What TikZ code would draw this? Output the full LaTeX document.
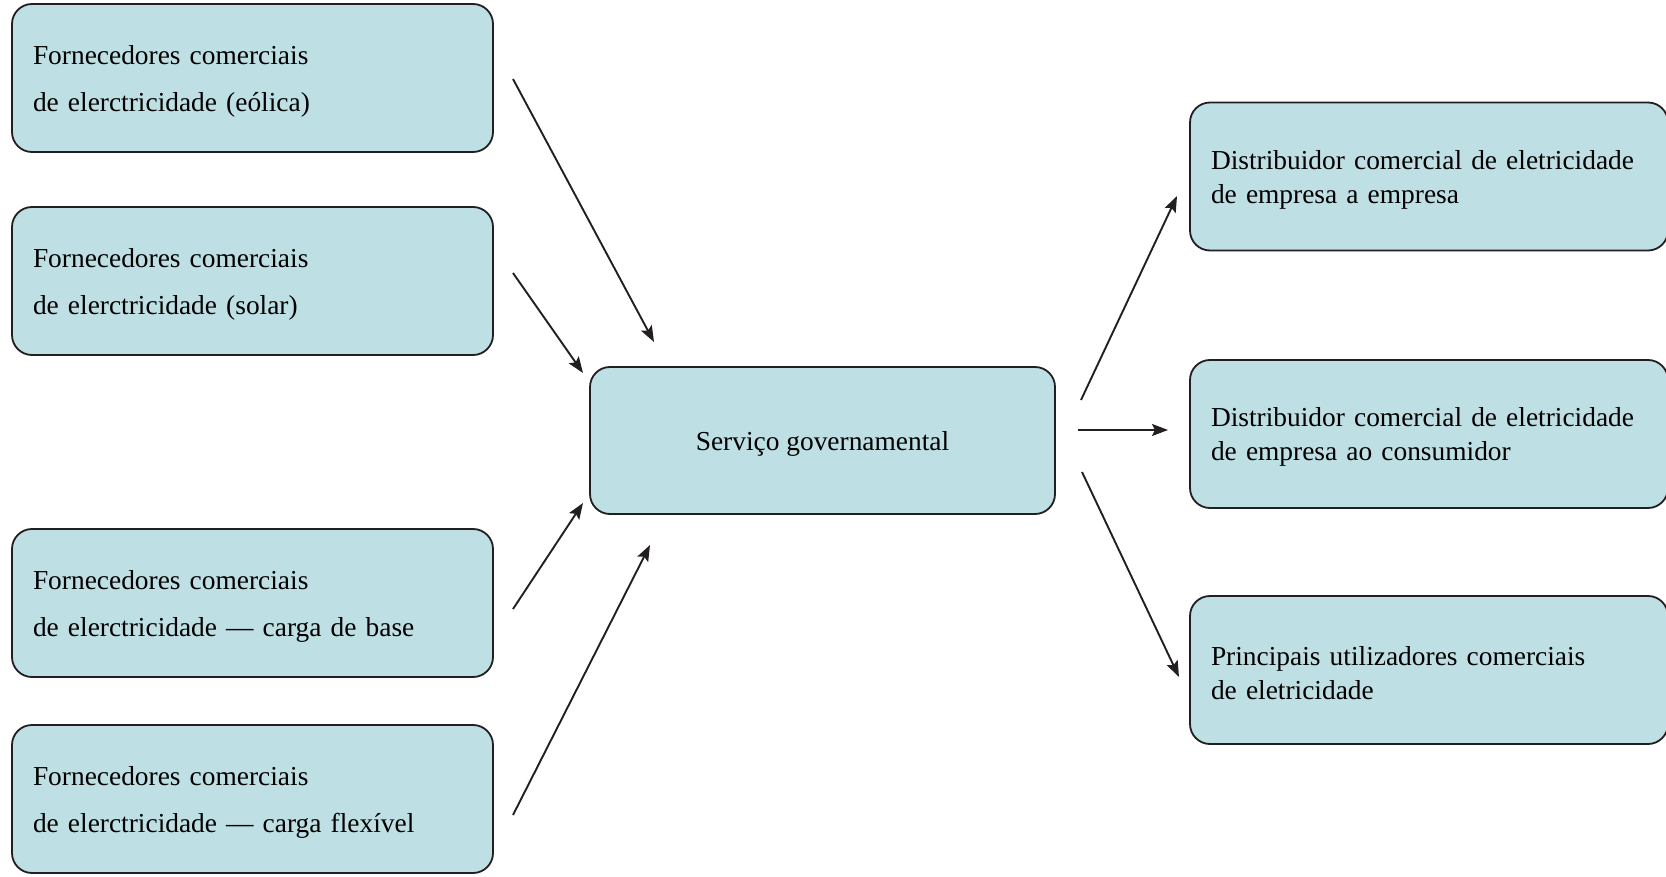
\documentclass[tikz,border=0pt]{standalone}
\usepackage{fontspec}
\setmainfont{Liberation Serif}
\usetikzlibrary{arrows.meta}

\begin{document}
\begin{tikzpicture}[x=0.5pt, y=-0.5pt,
    supplierBox/.style={draw=lineColour, fill=boxFill, line width=0.9pt, rounded corners=10pt,
        text width=219.5pt, inner xsep=10.5pt, minimum height=74pt, align=left,
        font=\fontsize{13.7}{23.5}\selectfont, execute at begin node=\rule{0pt}{12.6pt}},
    serviceBox/.style={draw=lineColour, fill=boxFill, line width=0.9pt, rounded corners=10pt,
        minimum width=232.5pt, minimum height=73.5pt, align=center,
        font=\fontsize{13.7}{17}\selectfont, execute at begin node=\rule{0pt}{12.6pt}},
    clientBox/.style={draw=lineColour, fill=boxFill, line width=0.9pt, rounded corners=10pt,
        text width=218pt, inner xsep=10.5pt, minimum height=74pt, align=left,
        font=\fontsize{13.7}{17}\selectfont, execute at begin node=\rule{0pt}{12.6pt}},
    flow/.style={draw=lineColour, line width=0.95pt, -{Stealth[length=8pt, width=6pt, inset=1.5pt]}}]
    % Define colours
    \definecolor{boxFill}{HTML}{BEDFE3}
    \definecolor{lineColour}{HTML}{231F20}

  % Fix the page size
  \useasboundingbox (0,0) rectangle (1666,877);

  % Suppliers on the left
  \node[supplierBox] (eolica) at (252.5,78) {Fornecedores comerciais\\de elerctricidade (eólica)};
  \node[supplierBox] (solar) at (252.5,281) {Fornecedores comerciais\\de elerctricidade (solar)};
  \node[supplierBox] (base) at (252.5,603) {Fornecedores comerciais\\de elerctricidade — carga de base};
  \node[supplierBox] (flexivel) at (252.5,799) {Fornecedores comerciais\\de elerctricidade — carga flexível};

  % Government service in the middle
  \node[serviceBox] (servico) at (822.5,440.5) {Serviço governamental};

  % Clients on the right
  \node[clientBox] (b2b) at (1429,176.5) {Distribuidor comercial de eletricidade\\de empresa a empresa};
  \node[clientBox] (b2c) at (1429,434) {Distribuidor comercial de eletricidade\\de empresa ao consumidor};
  \node[clientBox] (grandes) at (1429,670) {Principais utilizadores comerciais\\de eletricidade};

  % Free ends of the arrows (they stop short of the boxes)
  \coordinate (eolicaOut) at (513,79);
  \coordinate (eolicaIn) at (654,342);
  \coordinate (solarOut) at (513,273);
  \coordinate (solarIn) at (583,373);
  \coordinate (baseOut) at (513,609);
  \coordinate (baseIn) at (583,503);
  \coordinate (flexivelOut) at (513,815);
  \coordinate (flexivelIn) at (650,545);

  \coordinate (b2bOut) at (1081,400);
  \coordinate (b2bIn) at (1177,196);
  \coordinate (b2cOut) at (1078,430);
  \coordinate (b2cIn) at (1168,430);
  \coordinate (grandesOut) at (1082,472);
  \coordinate (grandesIn) at (1179,677);

  % Arrows into the service
  \draw[flow] (eolicaOut) -- (eolicaIn);
  \draw[flow] (solarOut) -- (solarIn);
  \draw[flow] (baseOut) -- (baseIn);
  \draw[flow] (flexivelOut) -- (flexivelIn);

  % Arrows out of the service
  \draw[flow] (b2bOut) -- (b2bIn);
  \draw[flow] (b2cOut) -- (b2cIn);
  \draw[flow] (grandesOut) -- (grandesIn);

\end{tikzpicture}
\end{document}
